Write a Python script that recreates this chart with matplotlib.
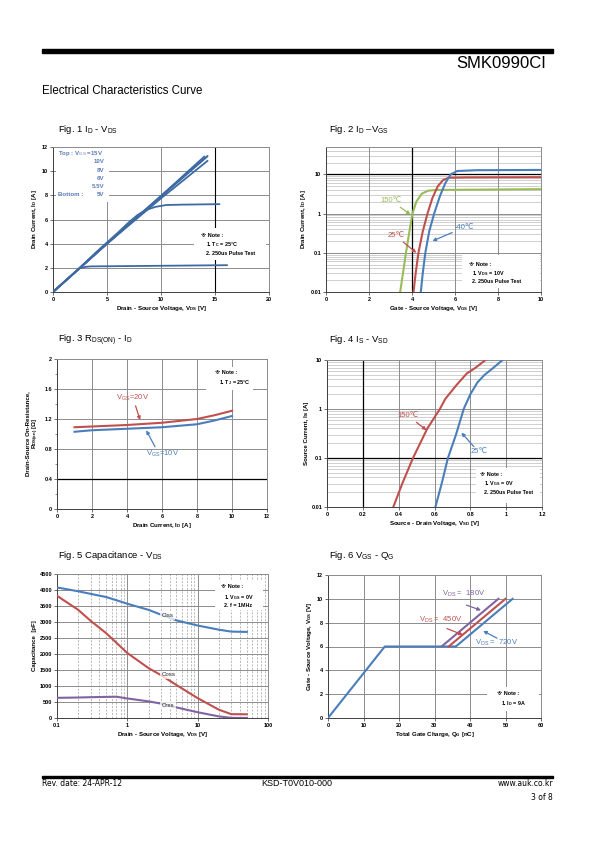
import numpy as np
import matplotlib.pyplot as plt
from matplotlib.patches import Rectangle

plt.rcParams['font.family'] = ['Liberation Sans', 'DejaVu Sans']
plt.rcParams['mathtext.fontset'] = 'custom'
plt.rcParams['mathtext.rm'] = 'Liberation Sans:bold'
plt.rcParams['mathtext.sf'] = 'Liberation Sans'
plt.rcParams['mathtext.default'] = 'rm'

W, H = 595, 842
BLUE = '#4a7ebb'
DARKBLUE = '#3d6aa3'
RED = '#c0504d'
GREEN = '#9bbb59'
PURPLE = '#8064a2'
GRID = '#8c8c8c'
LIGHT = '#c8c8c8'

# ---- Fig 1 : Id - Vds (curves for each Vgs)
fig1_vds_15v = [0, 2, 5, 10, 14.3]
fig1_id_15v = [0, 1.6, 4.0, 7.95, 11.25]
fig1_vds_10v = [0, 2, 5, 10, 14.2]
fig1_id_10v = [0, 1.6, 4.0, 7.9, 11.15]
fig1_vds_8v = [0, 2, 5, 10, 14.0]
fig1_id_8v = [0, 1.6, 4.0, 7.95, 11.2]
fig1_vds_6v = [0, 2, 5, 10, 14.3]
fig1_id_6v = [0, 1.6, 4.0, 7.75, 10.85]
fig1_vds_55v = [0, 2, 4, 5, 6, 7, 7.8, 8.5, 9.5, 10.5, 12, 15.4]
fig1_id_55v = [0, 1.6, 3.3, 4.1, 4.9, 5.75, 6.35, 6.75, 7.05, 7.2, 7.23, 7.27]
fig1_vds_5v = [0, 1, 2, 2.5, 3, 3.5, 5, 10, 16.1]
fig1_id_5v = [0, 0.82, 1.62, 1.97, 2.08, 2.12, 2.13, 2.17, 2.22]
fig1_vgs_labels = ['Top : V$_\\mathsf{GS}$ =15V', '10V', '8V', '6V', '5.5V', '5V']

# ---- Fig 2 : Id - Vgs
fig2_vgs_150 = [3.45, 3.58, 3.72, 3.88, 4.02, 4.2, 4.45, 4.75, 5.1, 6.0, 10]
fig2_id_150 = [0.01, 0.03, 0.1, 0.35, 1.0, 2.0, 3.2, 3.85, 4.0, 4.05, 4.2]
fig2_vgs_25 = [4.07, 4.17, 4.3, 4.5, 4.72, 4.95, 5.2, 5.45, 5.7, 6.5, 10]
fig2_id_25 = [0.01, 0.03, 0.1, 0.35, 1.0, 2.5, 5.0, 7.2, 8.2, 8.4, 8.5]
fig2_vgs_m40 = [4.41, 4.5, 4.62, 4.8, 5.03, 5.3, 5.55, 5.8, 6.1, 7.0, 10]
fig2_id_m40 = [0.01, 0.03, 0.1, 0.35, 1.0, 2.8, 6.0, 10.0, 12.2, 12.8, 13.0]

# ---- Fig 3 : Rds(on) - Id
fig3_id = [1, 2, 4, 6, 8, 9, 10]
fig3_r_20v = [1.09, 1.10, 1.12, 1.15, 1.20, 1.25, 1.31]
fig3_r_10v = [1.03, 1.05, 1.07, 1.09, 1.13, 1.18, 1.24]

# ---- Fig 4 : Is - Vsd
fig4_vsd_150 = [0.37, 0.42, 0.48, 0.56, 0.63, 0.66, 0.72, 0.78, 0.83, 0.885]
fig4_is_150 = [0.01, 0.03, 0.1, 0.4, 1.0, 1.6, 3.0, 5.3, 7.0, 10]
fig4_vsd_25 = [0.605, 0.64, 0.675, 0.72, 0.763, 0.80, 0.84, 0.88, 0.93, 0.98]
fig4_is_25 = [0.01, 0.03, 0.1, 0.3, 1.0, 2.0, 3.5, 5.0, 7.0, 10]

# ---- Fig 5 : Capacitance - Vds
fig5_vds = [0.1, 0.2, 0.3, 0.5, 0.7, 1, 2, 3, 5, 10, 20, 30, 50]
fig5_ciss = [4080, 3960, 3880, 3780, 3680, 3570, 3380, 3230, 3050, 2890, 2760, 2700, 2690]
fig5_coss = [3820, 3380, 3040, 2650, 2350, 2030, 1560, 1340, 1030, 620, 260, 120, 115]
fig5_crss = [630, 640, 650, 660, 665, 610, 520, 450, 330, 180, 50, 5, 0]

# ---- Fig 6 : Vgs - Qg
fig6_qg_common = [0, 16, 36]
fig6_vgs_common = [0, 6, 6]
fig6_qg_180 = [32, 48]
fig6_qg_450 = [34, 50]
fig6_qg_720 = [36, 52]
fig6_vgs_rise = [6, 10]


def axesAt(fig, x0, y0, x1, y1):
    # pixel box of the plot area, measured from the top left corner of the page
    return fig.add_axes([x0 / W, 1 - y1 / H, (x1 - x0) / W, (y1 - y0) / H])


def styleAxes(ax, xticks, xlabels, yticks, ylabels, xlabel, ylabel):
    ax.set_axisbelow(True)
    ax.set_xticks(xticks, xlabels, fontsize=4, fontweight='bold')
    ax.set_yticks(yticks, ylabels, fontsize=4, fontweight='bold')
    ax.tick_params(length=2, width=0.5, pad=1.5, colors='#333333', labelcolor='black')
    ax.tick_params(which='minor', length=1.5, width=0.4, colors='#333333')
    for s in ax.spines.values():
        s.set_color(GRID)
        s.set_linewidth(0.7)
    ax.spines['left'].set_color('#404040')
    ax.spines['bottom'].set_color('#404040')
    ax.set_xlabel(xlabel, fontsize=4.4, fontweight='bold', labelpad=1.5)
    ax.set_ylabel(ylabel, fontsize=4.4, fontweight='bold', labelpad=2)


def whiteBox(ax, x0, y0, x1, y1):
    ax.add_patch(Rectangle((x0, y0), x1 - x0, y1 - y0, transform=ax.transAxes,
                           facecolor='white', edgecolor='none', zorder=1))


def noteText(ax, lines, positions):
    for t, (x, y) in zip(lines, positions):
        ax.text(x, y, t, transform=ax.transAxes, fontsize=3.9, fontweight='bold',
                va='center', ha='left', zorder=5)


def arrow(ax, text, xy, xytext, color, size=5.5):
    ax.annotate(text, xy=xy, xytext=xytext, color=color, fontsize=size,
                ha='left', va='center', zorder=6,
                arrowprops=dict(arrowstyle='-|>', color=color, lw=0.9,
                                mutation_scale=5, shrinkA=0, shrinkB=0))


fig = plt.figure(figsize=(W / 100, H / 100), dpi=100)

# page header / footer
fig.add_artist(Rectangle((42 / W, 1 - 53 / H), (553 - 42) / W, 4.5 / H,
                         transform=fig.transFigure, color='black'))
fig.text(546 / W, 1 - 64 / H, 'SMK0990CI', fontsize=12, ha='right', va='center')
fig.text(42 / W, 1 - 91.5 / H, 'Electrical Characteristics Curve', fontsize=8.3,
         ha='left', va='center')
fig.add_artist(Rectangle((42 / W, 1 - 777.5 / H), (553 - 42) / W, 2 / H,
                         transform=fig.transFigure, color='black'))
fig.text(42 / W, 1 - 784 / H, 'Rev. date: 24-APR-12', fontsize=5.5,
         family='DejaVu Sans', ha='left', va='center')
fig.text(297 / W, 1 - 784 / H, 'KSD-T0V010-000', fontsize=6.5, ha='center', va='center')
fig.text(553 / W, 1 - 784 / H, 'www.auk.co.kr', fontsize=5.5, family='DejaVu Sans',
         ha='right', va='center')
fig.text(553 / W, 1 - 797 / H, '3 of 8', fontsize=5.5, family='DejaVu Sans',
         ha='right', va='center')

# figure titles
titles = [r'Fig. 1 I$_\mathsf{D}$ - V$_\mathsf{DS}$',
          r'Fig. 2 I$_\mathsf{D}$ –V$_\mathsf{GS}$',
          r'Fig. 3 R$_\mathsf{DS(ON)}$ - I$_\mathsf{D}$',
          r'Fig. 4 I$_\mathsf{S}$ - V$_\mathsf{SD}$',
          r'Fig. 5 Capacitance - V$_\mathsf{DS}$',
          r'Fig. 6 V$_\mathsf{GS}$ - Q$_\mathsf{G}$']
titlePos = [(58, 130), (329, 130), (58, 340), (329, 340), (58, 555), (329, 555)]
for t, (x, y) in zip(titles, titlePos):
    fig.text(x / W, 1 - y / H, t, fontsize=6.8, ha='left', va='center')

# ---------------- Fig 1
ax1 = axesAt(fig, 53, 147, 269, 292)
styleAxes(ax1, [0, 5, 10, 15, 20], ['0', '5', '10', '15', '20'],
          [0, 2, 4, 6, 8, 10, 12], ['0', '2', '4', '6', '8', '10', '12'],
          'Drain - Source Voltage, V$_{DS}$ [V]', 'Drain Current, I$_D$ [A]')
ax1.set_xlim(0, 20)
ax1.set_ylim(0, 12)
ax1.grid(True, color=GRID, lw=0.7)
ax1.axvline(15, color='black', lw=0.8, zorder=0.6)
whiteBox(ax1, 0.012, 0.62, 0.26, 0.995)
whiteBox(ax1, 0.655, 0.22, 0.985, 0.44)
for xs, ys in [(fig1_vds_15v, fig1_id_15v), (fig1_vds_10v, fig1_id_10v),
               (fig1_vds_8v, fig1_id_8v), (fig1_vds_6v, fig1_id_6v),
               (fig1_vds_55v, fig1_id_55v), (fig1_vds_5v, fig1_id_5v)]:
    ax1.plot(xs, ys, color=DARKBLUE, lw=1.3, zorder=3)
legY = [0.955, 0.898, 0.841, 0.784, 0.727, 0.670]
LEG = '#5a7cb8'
ax1.text(0.025, legY[0], fig1_vgs_labels[0], transform=ax1.transAxes, fontsize=4.4,
         fontweight='bold', color=LEG, va='center', ha='left', zorder=5)
for t, y in zip(fig1_vgs_labels[1:], legY[1:]):
    ax1.text(0.237, y, t, transform=ax1.transAxes, fontsize=4.4, fontweight='bold',
             color=LEG, va='center', ha='right', zorder=5)
ax1.text(0.025, legY[-1], 'Bottom :', transform=ax1.transAxes, fontsize=4.4,
         fontweight='bold', color=LEG, va='center', ha='left', zorder=5)
noteText(ax1, ['※ Note :', '1. T$_C$ = 25°C', '2. 250us Pulse Test'],
         [(0.685, 0.39), (0.707, 0.325), (0.707, 0.268)])

# ---------------- Fig 2
ax2 = axesAt(fig, 326, 147, 541, 292)
ax2.set_yscale('log')
ax2.set_xlim(0, 10)
ax2.set_ylim(0.01, 50)
styleAxes(ax2, [0, 2, 4, 6, 8, 10], ['0', '2', '4', '6', '8', '10'],
          [0.01, 0.1, 1, 10], ['0.01', '0.1', '1', '10'],
          'Gate - Source Voltage, V$_{GS}$ [V]', 'Drain Current, I$_D$ [A]')
ax2.minorticks_off()
for dec in [0.01, 0.1, 1, 10]:
    for k in range(2, 10):
        if dec * k <= 50:
            ax2.axhline(dec * k, color=LIGHT, lw=0.6, zorder=0.5)
ax2.grid(True, which='major', color=GRID, lw=0.7)
ax2.axhline(10, color='black', lw=0.9, zorder=0.6)
ax2.axvline(4, color='black', lw=0.9, zorder=0.6)
whiteBox(ax2, 0.632, 0.03, 0.995, 0.256)
ax2.plot(fig2_vgs_150, fig2_id_150, color=GREEN, lw=1.5, zorder=3)
ax2.plot(fig2_vgs_25, fig2_id_25, color=RED, lw=1.5, zorder=3)
ax2.plot(fig2_vgs_m40, fig2_id_m40, color=BLUE, lw=1.5, zorder=3)
arrow(ax2, '150℃', (3.93, 0.95), (2.55, 2.1), GREEN)
arrow(ax2, '25℃', (4.2, 0.1), (2.85, 0.27), RED)
arrow(ax2, '-40℃', (4.95, 0.2), (6.0, 0.45), BLUE)
noteText(ax2, ['※ Note :', '1. V$_{DS}$ = 10V', '2. 250us Pulse Test'],
         [(0.666, 0.192), (0.679, 0.13), (0.679, 0.069)])

# ---------------- Fig 3
ax3 = axesAt(fig, 57, 359, 267, 509)
ax3.set_xlim(0, 12)
ax3.set_ylim(0, 2)
styleAxes(ax3, [0, 2, 4, 6, 8, 10, 12], ['0', '2', '4', '6', '8', '10', '12'],
          [0, 0.4, 0.8, 1.2, 1.6, 2], ['0', '0.4', '0.8', '1.2', '1.6', '2'],
          'Drain Current, I$_D$ [A]',
          'Drain-Source On-Resistance,\nR$_{DS(on)}$ [Ω]')
ax3.set_yticks(np.arange(0, 2.01, 0.2), minor=True)
ax3.grid(True, color=GRID, lw=0.7)
ax3.axhline(0.4, color='black', lw=0.9, zorder=0.6)
whiteBox(ax3, 0.71, 0.795, 0.935, 0.95)
ax3.plot(fig3_id, fig3_r_20v, color=RED, lw=1.5, zorder=3)
ax3.plot(fig3_id, fig3_r_10v, color=BLUE, lw=1.5, zorder=3)
arrow(ax3, r'V$_\mathsf{GS}$=20V', (4.75, 1.185), (3.4, 1.48), RED)
ax3.annotate('', xy=(5.1, 1.05), xytext=(5.6, 0.83),
             arrowprops=dict(arrowstyle='-|>', color=BLUE, lw=0.9,
                             mutation_scale=5, shrinkA=0, shrinkB=0))
ax3.text(5.1, 0.73, r'V$_\mathsf{GS}$=10V', color=BLUE, fontsize=5.5,
         ha='left', va='center')
noteText(ax3, ['※ Note :', '1. T$_J$ = 25°C'], [(0.753, 0.91), (0.772, 0.846)])

# ---------------- Fig 4
ax4 = axesAt(fig, 327, 360, 542, 507)
ax4.set_yscale('log')
ax4.set_xlim(0, 1.2)
ax4.set_ylim(0.01, 10)
styleAxes(ax4, [0, 0.2, 0.4, 0.6, 0.8, 1.0, 1.2], ['0', '0.2', '0.4', '0.6', '0.8', '1', '1.2'],
          [0.01, 0.1, 1, 10], ['0.01', '0.1', '1', '10'],
          'Source - Drain Voltage, V$_{SD}$ [V]', 'Source Current, Is [A]')
ax4.minorticks_off()
for dec in [0.01, 0.1, 1]:
    for k in range(2, 10):
        ax4.axhline(dec * k, color=LIGHT, lw=0.6, zorder=0.5)
ax4.grid(True, which='major', color=GRID, lw=0.7)
ax4.axhline(0.1, color='black', lw=0.9, zorder=0.6)
ax4.axvline(0.2, color='black', lw=0.9, zorder=0.6)
whiteBox(ax4, 0.695, 0.025, 0.99, 0.263)
ax4.plot(fig4_vsd_150, fig4_is_150, color=RED, lw=1.5, zorder=3)
ax4.plot(fig4_vsd_25, fig4_is_25, color=BLUE, lw=1.5, zorder=3)
arrow(ax4, '150℃', (0.555, 0.37), (0.395, 0.72), RED)
ax4.annotate('', xy=(0.75, 0.33), xytext=(0.82, 0.17),
             arrowprops=dict(arrowstyle='-|>', color=BLUE, lw=0.9,
                             mutation_scale=5, shrinkA=0, shrinkB=0))
ax4.text(0.80, 0.135, '25℃', color=BLUE, fontsize=5.5, ha='left', va='center')
noteText(ax4, ['※ Note :', '1. V$_{GS}$ = 0V', '2. 250us Pulse Test'],
         [(0.71, 0.222), (0.729, 0.161), (0.729, 0.1)])

# ---------------- Fig 5
ax5 = axesAt(fig, 57, 574, 268, 718)
ax5.set_xscale('log')
ax5.set_xlim(0.1, 100)
ax5.set_ylim(0, 4500)
yt5 = list(range(0, 4501, 500))
styleAxes(ax5, [0.1, 1, 10, 100], ['0.1', '1', '10', '100'],
          yt5, [str(v) for v in yt5],
          'Drain - Source Voltage, V$_{DS}$ [V]', 'Capacitance  [pF]')
ax5.minorticks_off()
ax5.grid(True, axis='y', color=GRID, lw=0.7)
for dec in [0.1, 1, 10]:
    for k in range(2, 10):
        ax5.axvline(dec * k, color='#a0a0a0', lw=0.5, ls=(0, (3, 2)), zorder=0.5)
ax5.axvline(1, color=GRID, lw=0.7, zorder=0.5)
ax5.axvline(10, color=GRID, lw=0.7, zorder=0.5)
whiteBox(ax5, 0.75, 0.752, 0.976, 0.949)
ax5.plot(fig5_vds, fig5_ciss, color=BLUE, lw=1.5, zorder=3)
ax5.plot(fig5_vds, fig5_coss, color=RED, lw=1.5, zorder=3)
ax5.plot(fig5_vds, fig5_crss, color=PURPLE, lw=1.5, zorder=3)
for t, y in [('Ciss', 3200), ('Coss', 1350), ('Crss', 390)]:
    ax5.text(3.1, y, t, fontsize=4.4, color='#222222', ha='left', va='center', zorder=6,
             bbox=dict(facecolor='white', alpha=0.75, edgecolor='none', pad=1))
noteText(ax5, ['※ Note :', '1. V$_{GS}$ = 0V', '2. f = 1MHz'],
         [(0.779, 0.914), (0.793, 0.838), (0.793, 0.782)])

# ---------------- Fig 6
ax6 = axesAt(fig, 328, 575, 541, 718)
ax6.set_xlim(0, 60)
ax6.set_ylim(0, 12)
styleAxes(ax6, [0, 10, 20, 30, 40, 50, 60], ['0', '10', '20', '30', '40', '50', '60'],
          [0, 2, 4, 6, 8, 10, 12], ['0', '2', '4', '6', '8', '10', '12'],
          'Total Gate Charge, Q$_G$ [nC]', 'Gate - Source Voltage, V$_{GS}$ [V]')
ax6.grid(True, color=GRID, lw=0.7)
whiteBox(ax6, 0.746, 0.046, 0.99, 0.22)
ax6.plot(fig6_qg_common, fig6_vgs_common, color=BLUE, lw=1.5, zorder=3)
ax6.plot(fig6_qg_180, fig6_vgs_rise, color=PURPLE, lw=1.5, zorder=3)
ax6.plot(fig6_qg_450, fig6_vgs_rise, color=RED, lw=1.5, zorder=3)
ax6.plot(fig6_qg_720, fig6_vgs_rise, color=BLUE, lw=1.5, zorder=3)
ax6.annotate('', xy=(43.1, 9.04), xytext=(39.0, 9.47),
             arrowprops=dict(arrowstyle='-|>', color=PURPLE, lw=0.9,
                             mutation_scale=5, shrinkA=0, shrinkB=0))
ax6.text(32.1, 10.4, r'V$_\mathsf{DS}$ =  180V', color=PURPLE, fontsize=5.5,
         ha='left', va='center')
ax6.annotate('', xy=(38.0, 6.98), xytext=(33.5, 7.5),
             arrowprops=dict(arrowstyle='-|>', color=RED, lw=0.9,
                             mutation_scale=5, shrinkA=0, shrinkB=0))
ax6.text(25.5, 8.27, r'V$_\mathsf{DS}$ =  450V', color=RED, fontsize=5.5,
         ha='left', va='center')
ax6.annotate('', xy=(43.7, 7.31), xytext=(47.6, 6.7),
             arrowprops=dict(arrowstyle='-|>', color=BLUE, lw=0.9,
                             mutation_scale=5, shrinkA=0, shrinkB=0))
ax6.text(41.5, 6.3, r'V$_\mathsf{DS}$ =  720V', color=BLUE, fontsize=5.5,
         ha='left', va='center')
noteText(ax6, ['※ Note :', '1. I$_D$ = 9A'], [(0.793, 0.174), (0.812, 0.098)])

fig.savefig('out.png', dpi=100)
